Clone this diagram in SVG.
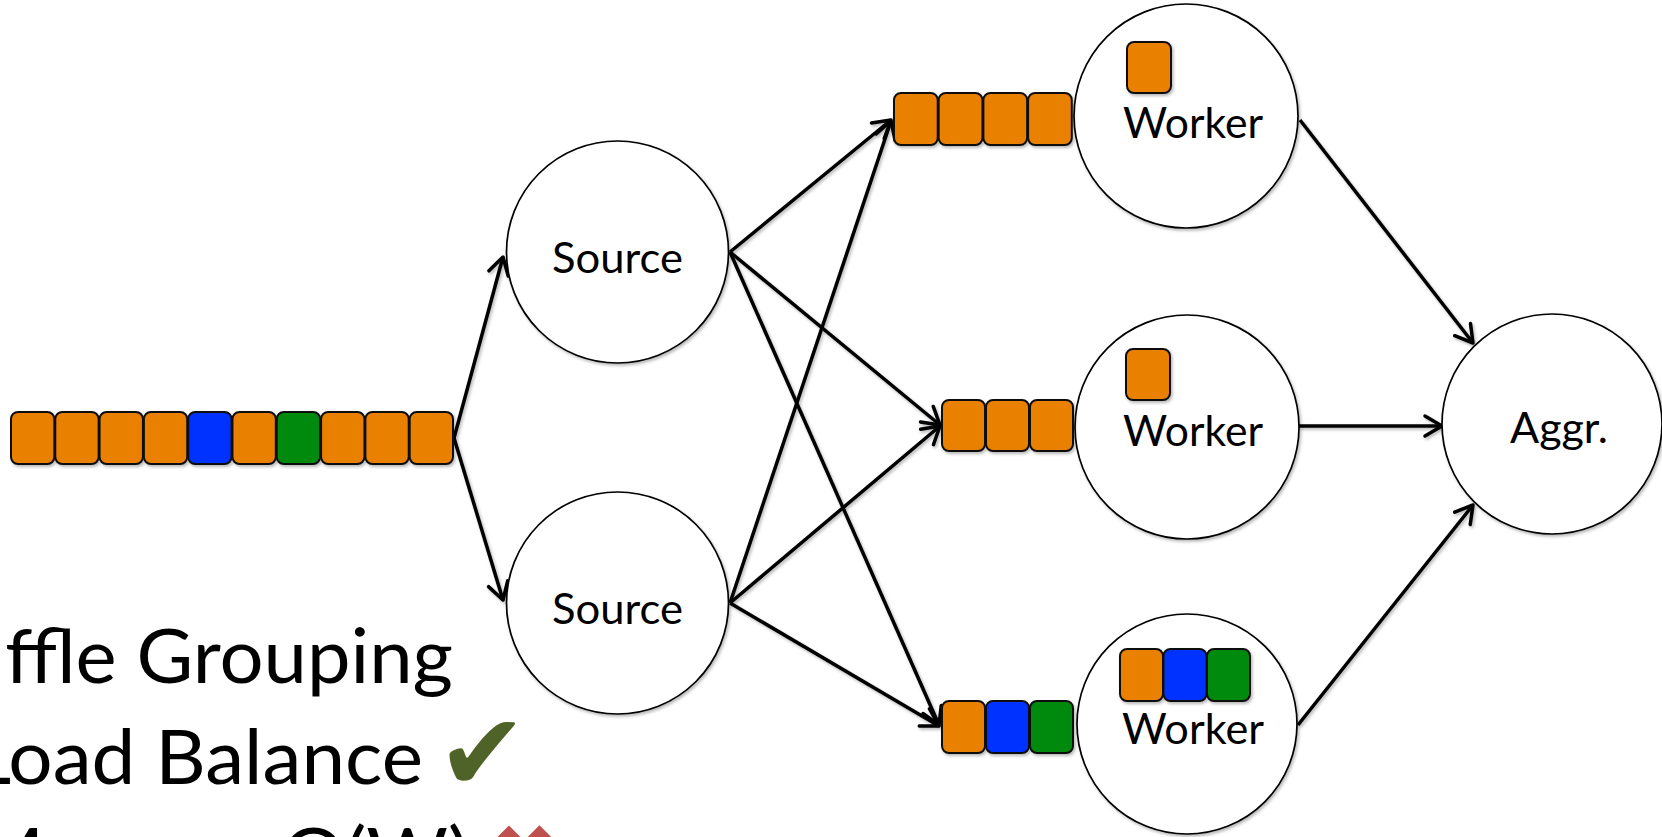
<svg xmlns="http://www.w3.org/2000/svg" width="1662" height="837" viewBox="0 0 1662 837">
  <style>
    .node { fill: #fff; stroke: #000; stroke-width: 1.7; }
    .box { stroke: #111; stroke-width: 2; }
    .o { fill: #EA8006; }
    .b { fill: #0433FF; }
    .g { fill: #008A10; }
    .edge { fill: none; stroke: #000; stroke-width: 3.5; marker-end: url(#arrow); }
    .label { font-family: Lato, "Open Sans", sans-serif; font-size: 43px; fill: #000; }
    .note { font-family: Lato, "Open Sans", sans-serif; font-size: 76px; fill: #000; }
    .sym { font-family: "DejaVu Sans", sans-serif; font-size: 84px; }
    .check { font-size: 108px; fill: #4F6228; }
    .cross { fill: #C0504D; }
  </style>
  <defs>
    <marker id="arrow" viewBox="-20 -12 22 24" refX="0" refY="0" markerWidth="22" markerHeight="24" markerUnits="userSpaceOnUse" orient="auto" overflow="visible">
      <path d="M-17,-10 L0,0 L-17,10" fill="none" stroke="#000" stroke-width="3.5" stroke-linecap="round" stroke-linejoin="round"/>
    </marker>
    <filter id="shadow" filterUnits="userSpaceOnUse" x="-50" y="-50" width="1762" height="937">
      <feDropShadow dx="1.5" dy="2" stdDeviation="1.5" flood-color="#000" flood-opacity="0.28"/>
    </filter>
  </defs>
  <rect width="1662" height="837" fill="#fff"/>

  <!-- connectors -->
  <g id="connectors" filter="url(#shadow)">
    <line class="edge" x1="454" y1="438" x2="503" y2="257"/>
    <line class="edge" x1="454" y1="438" x2="503" y2="600"/>
    <line class="edge" x1="730" y1="252" x2="891" y2="120"/>
    <line class="edge" x1="730" y1="252" x2="940" y2="425"/>
    <line class="edge" x1="730" y1="252" x2="939" y2="725"/>
    <line class="edge" x1="730" y1="603" x2="891" y2="121"/>
    <line class="edge" x1="730" y1="603" x2="940" y2="426"/>
    <line class="edge" x1="730" y1="603" x2="939" y2="726"/>
    <line class="edge" x1="1300" y1="120" x2="1473" y2="343"/>
    <line class="edge" x1="1299" y1="426" x2="1442" y2="426"/>
    <line class="edge" x1="1298" y1="725" x2="1473" y2="505"/>
  </g>

  <!-- incoming tuple stream -->
  <g id="input-queue" filter="url(#shadow)">
    <rect class="box o" x="11" y="412" width="43.3" height="52" rx="7"/>
    <rect class="box o" x="55.3" y="412" width="43.3" height="52" rx="7"/>
    <rect class="box o" x="99.6" y="412" width="43.3" height="52" rx="7"/>
    <rect class="box o" x="143.9" y="412" width="43.3" height="52" rx="7"/>
    <rect class="box b" x="188.2" y="412" width="43.3" height="52" rx="7"/>
    <rect class="box o" x="232.5" y="412" width="43.3" height="52" rx="7"/>
    <rect class="box g" x="276.8" y="412" width="43.3" height="52" rx="7"/>
    <rect class="box o" x="321.1" y="412" width="43.3" height="52" rx="7"/>
    <rect class="box o" x="365.4" y="412" width="43.3" height="52" rx="7"/>
    <rect class="box o" x="409.7" y="412" width="43.3" height="52" rx="7"/>
  </g>

  <!-- sources -->
  <g id="source-1">
    <circle class="node" cx="617.5" cy="252" r="111" filter="url(#shadow)"/>
    <text class="label" x="552" y="273" textLength="131" lengthAdjust="spacingAndGlyphs">Source</text>
  </g>
  <g id="source-2">
    <circle class="node" cx="617.5" cy="603" r="111" filter="url(#shadow)"/>
    <text class="label" x="552" y="624" textLength="131" lengthAdjust="spacingAndGlyphs">Source</text>
  </g>

  <!-- workers with their input queues -->
  <g id="worker-1">
    <circle class="node" cx="1186" cy="116" r="112" filter="url(#shadow)"/>
    <g filter="url(#shadow)">
      <rect class="box o" x="894" y="93" width="43.7" height="52" rx="7"/>
      <rect class="box o" x="938.7" y="93" width="43.7" height="52" rx="7"/>
      <rect class="box o" x="983.4" y="93" width="43.7" height="52" rx="7"/>
      <rect class="box o" x="1028.1" y="93" width="43.7" height="52" rx="7"/>
      <rect class="box o" x="1127" y="42" width="44" height="51" rx="7"/>
    </g>
    <text class="label" x="1123" y="138" textLength="140" lengthAdjust="spacingAndGlyphs">Worker</text>
  </g>
  <g id="worker-2">
    <circle class="node" cx="1187" cy="427" r="112" filter="url(#shadow)"/>
    <g filter="url(#shadow)">
      <rect class="box o" x="942" y="400" width="43" height="51" rx="7"/>
      <rect class="box o" x="986" y="400" width="43" height="51" rx="7"/>
      <rect class="box o" x="1030" y="400" width="43" height="51" rx="7"/>
      <rect class="box o" x="1126" y="349" width="44" height="51" rx="7"/>
    </g>
    <text class="label" x="1123" y="446" textLength="140" lengthAdjust="spacingAndGlyphs">Worker</text>
  </g>
  <g id="worker-3">
    <circle class="node" cx="1187" cy="724" r="110" filter="url(#shadow)"/>
    <g filter="url(#shadow)">
      <rect class="box o" x="942" y="701" width="43" height="52" rx="7"/>
      <rect class="box b" x="986" y="701" width="43" height="52" rx="7"/>
      <rect class="box g" x="1030" y="701" width="43" height="52" rx="7"/>
      <rect class="box o" x="1120" y="649" width="43" height="52" rx="7"/>
      <rect class="box b" x="1163.5" y="649" width="43" height="52" rx="7"/>
      <rect class="box g" x="1207" y="649" width="43" height="52" rx="7"/>
    </g>
    <text class="label" x="1122" y="744" textLength="142" lengthAdjust="spacingAndGlyphs">Worker</text>
  </g>

  <!-- aggregator -->
  <g id="aggr">
    <circle class="node" cx="1552" cy="424" r="110" filter="url(#shadow)"/>
    <text class="label" x="1510" y="443" textLength="98" lengthAdjust="spacingAndGlyphs">Aggr.</text>
  </g>

  <!-- bullet notes -->
  <g id="notes">
    <text class="note" x="-123" y="683" textLength="576" lengthAdjust="spacingAndGlyphs">Shuffle Grouping</text>
    <text class="note" x="-29" y="784" textLength="452" lengthAdjust="spacingAndGlyphs">Load Balance</text>
    <text class="sym check" x="437" y="790">✔</text>
    <text class="note" x="-29" y="882" textLength="498" lengthAdjust="spacingAndGlyphs">Memory O(W)</text>
    <text class="sym cross" x="489" y="884">✖</text>
  </g>
</svg>
